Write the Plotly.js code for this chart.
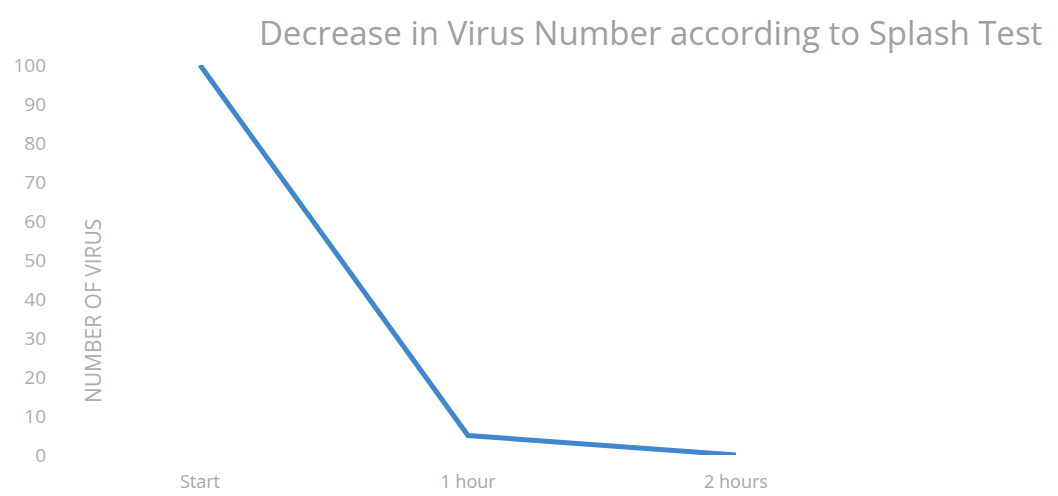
<!DOCTYPE html>
<html>
<head>
<meta charset="utf-8">
<script src="https://cdn.plot.ly/plotly-3.0.1.min.js"></script>
<style>html,body{margin:0;padding:0;background:#fff;}#chart{width:1058px;height:496px;}</style>
</head>
<body>
<div id="chart"></div>
<script>
const categories = ["Start", "1 hour", "2 hours"];
const virusCount = [100, 5, 0];
const yTicks = [0, 10, 20, 30, 40, 50, 60, 70, 80, 90, 100];
const chartTitle = "Decrease in Virus Number according to Splash Test";
const yTitle = "NUMBER OF VIRUS";

const trace = {
  x: categories,
  y: virusCount,
  type: "scatter",
  mode: "lines",
  line: {color: "#3f87cf", width: 5},
  hoverinfo: "skip"
};

const layout = {
  width: 1058,
  height: 496,
  margin: {l: 66, r: 188, t: 65, b: 41},
  paper_bgcolor: "#ffffff",
  plot_bgcolor: "#ffffff",
  showlegend: false,
  font: {family: "Open Sans, sans-serif", color: "#a8a8a8"},
  title: {
    text: chartTitle,
    font: {family: "Open Sans, sans-serif", size: 33, color: "#a0a0a0"},
    xref: "container", yref: "container",
    x: 0.615, xanchor: "center",
    y: 0.933, yanchor: "middle"
  },
  xaxis: {
    type: "category",
    range: [-0.5, 2.5],
    showgrid: false, zeroline: false, showline: false,
    ticks: "",
    tickfont: {size: 18, color: "#a8a8a8"},
    ticklabelstandoff: 14
  },
  yaxis: {
    range: [0, 100],
    tickvals: yTicks,
    ticktext: yTicks.map(String),
    showgrid: false, zeroline: false, showline: false,
    ticks: "",
    tickfont: {size: 19, color: "#adadad"},
    ticklabelstandoff: 19
  },
  annotations: [{
    text: yTitle,
    xref: "paper", yref: "paper",
    x: 0.0336, y: 0.369,
    xanchor: "center", yanchor: "middle",
    textangle: -90,
    showarrow: false,
    font: {family: "Open Sans, sans-serif", size: 21, color: "#adadad"}
  }]
};

Plotly.newPlot("chart", [trace], layout, {staticPlot: true, displayModeBar: false});
</script>
</body>
</html>
